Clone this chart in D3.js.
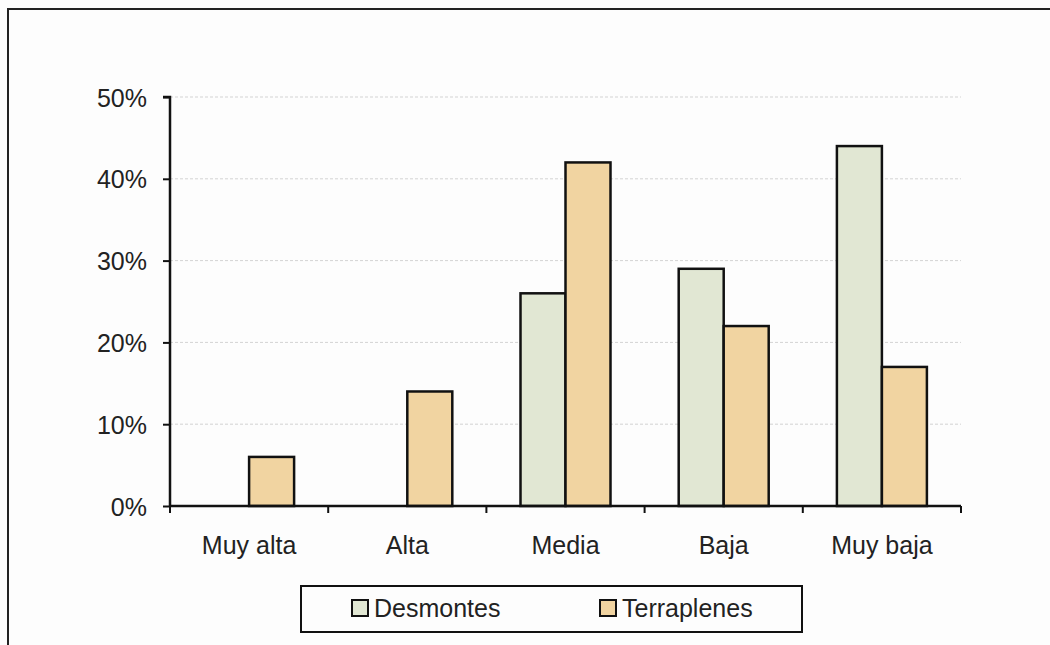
<!DOCTYPE html>
<html>
<head>
<meta charset="utf-8">
<script src="https://cdn.jsdelivr.net/npm/d3@7"></script>
<style>
  html, body { margin: 0; padding: 0; background: #fdfdfd; }
  svg { display: block; font-family: "Liberation Sans", Arial, sans-serif; }
</style>
</head>
<body>
<svg id="chart" width="1050" height="645"></svg>
<script>
// Share of slopes per susceptibility class
const categories = ["Muy alta", "Alta", "Media", "Baja", "Muy baja"];
const seriesNames = ["Desmontes", "Terraplenes"];
const desmontes = [0, 0, 26, 29, 44];
const terraplenes = [6, 14, 42, 22, 17];
const yTicks = [0, 10, 20, 30, 40, 50];
const colors = ["#e1e7d3", "#f1d4a1"];

const svg = d3.select("#chart");
const W = 1050, H = 645;
const FS = 25;

// outer frame (runs off the right and bottom edges)
svg.append("rect").attr("x", 0).attr("y", 0).attr("width", W).attr("height", H).attr("fill", "#fdfdfd");
svg.append("path")
  .attr("d", `M8,${H + 5} L8,9 L${W + 5},9`)
  .attr("fill", "none").attr("stroke", "#222").attr("stroke-width", 2);

const plot = { left: 170, right: 961, top: 97, bottom: 506 };

const x0 = d3.scaleBand().domain(categories).range([plot.left, plot.right]);
const barW = 45;
const x1 = d3.scaleBand().domain(seriesNames)
  .range([x0.bandwidth() / 2 - barW, x0.bandwidth() / 2 + barW]);
const y = d3.scaleLinear().domain([0, 50]).range([plot.bottom, plot.top]);

// dotted gridlines
svg.append("g").selectAll("line").data(yTicks.filter(t => t > 0)).join("line")
  .attr("x1", plot.left).attr("x2", plot.right)
  .attr("y1", d => y(d)).attr("y2", d => y(d))
  .attr("stroke", "#d3d3d3").attr("stroke-width", 1).attr("stroke-dasharray", "3,2");

// bars
const series = [desmontes, terraplenes];
const g = svg.append("g");
categories.forEach((c, i) => {
  seriesNames.forEach((s, j) => {
    const v = series[j][i];
    if (v <= 0) return;
    g.append("rect")
      .attr("x", x0(c) + x1(s))
      .attr("y", y(v))
      .attr("width", x1.bandwidth())
      .attr("height", y(0) - y(v))
      .attr("fill", colors[j])
      .attr("stroke", "#111").attr("stroke-width", 2.5);
  });
});

// y axis
const yAxis = d3.axisLeft(y).tickValues(yTicks).tickFormat(d => d + "%").tickSize(7).tickPadding(16);
const ya = svg.append("g").attr("transform", `translate(${plot.left},0)`).call(yAxis);
ya.attr("font-size", FS).attr("font-family", "'Liberation Sans', Arial, sans-serif");
ya.select(".domain").attr("stroke", "#111").attr("stroke-width", 2.5).attr("d", `M-7,${plot.top}H0V${plot.bottom}`);
ya.selectAll(".tick line").attr("stroke", "#111").attr("stroke-width", 2);
ya.selectAll(".tick text").attr("fill", "#222").attr("dy", "0.36em");

// x axis with ticks at category boundaries
const xa = svg.append("g").attr("transform", `translate(0,${plot.bottom})`);
xa.append("line").attr("x1", plot.left).attr("x2", plot.right).attr("y1", 0).attr("y2", 0)
  .attr("stroke", "#111").attr("stroke-width", 2.5);
const bounds = categories.map(c => x0(c)).concat([x0.range()[1]]);
xa.selectAll(".xt").data(bounds).join("line").attr("class", "xt")
  .attr("x1", d => d).attr("x2", d => d).attr("y1", 0).attr("y2", 7)
  .attr("stroke", "#111").attr("stroke-width", 2);
xa.selectAll(".xl").data(categories).join("text").attr("class", "xl")
  .attr("x", d => x0(d) + x0.bandwidth() / 2).attr("y", 48)
  .attr("text-anchor", "middle").attr("font-size", FS).attr("fill", "#222")
  .text(d => d);

// legend
const lg = svg.append("g");
lg.append("rect").attr("x", 301).attr("y", 586).attr("width", 501).attr("height", 46)
  .attr("fill", "#fdfdfd").attr("stroke", "#111").attr("stroke-width", 2);
const legendX = [352, 600];
seriesNames.forEach((s, j) => {
  lg.append("rect").attr("x", legendX[j]).attr("y", 600).attr("width", 16).attr("height", 16)
    .attr("fill", colors[j]).attr("stroke", "#111").attr("stroke-width", 2);
  lg.append("text").attr("x", legendX[j] + 22).attr("y", 617).attr("font-size", FS).attr("fill", "#222").text(s);
});
</script>
</body>
</html>
